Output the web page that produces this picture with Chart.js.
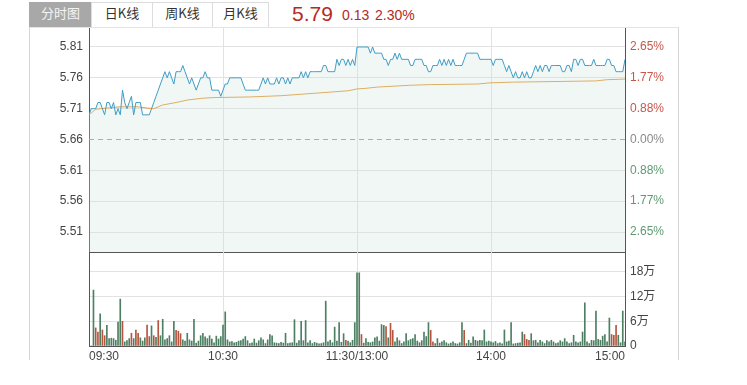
<!DOCTYPE html>
<html lang="zh-CN">
<head>
<meta charset="UTF-8">
<title>分时图</title>
<script src="https://cdn.jsdelivr.net/npm/chart.js@4"></script>
<style>
  body { margin: 0; background: #fff; font-family: "Liberation Sans", Arial, "Noto Sans CJK SC", sans-serif; }
  #wrap { position: relative; width: 747px; height: 385px; overflow: hidden; }
  .box { position: absolute; left: 29px; top: 27px; width: 648px; height: 332px;
         border-left: 1px solid #d6d6d6; border-right: 1px solid #d6d6d6; border-top: 1px solid #e4e4e4; }
  .tab { position: absolute; top: 2px; height: 25px; line-height: 24px; text-align: center;
         font: 13px "Noto Sans CJK SC", sans-serif; color: #333; background: #fff;
         border: 1px solid #dcdcdc; border-bottom: none; box-sizing: border-box; }
  .tab.on { background: #a8a8a8; color: #f4f4f4; border-color: #a8a8a8; }
  .quote { position: absolute; color: #b52a22; white-space: nowrap; }
  canvas { position: absolute; }
</style>
</head>
<body>
<div id="wrap">
  <div class="box"></div>
  <div class="tab on" style="left:29px;width:63px">分时图</div>
  <div class="tab" style="left:91px;width:62px">日K线</div>
  <div class="tab" style="left:152px;width:61px">周K线</div>
  <div class="tab" style="left:212px;width:57px">月K线</div>
  <span class="quote" id="last" style="left:292px;top:2px;font-size:21px"></span>
  <span class="quote" id="chg" style="left:342px;top:7px;font-size:14px"></span>
  <span class="quote" id="pct" style="left:375px;top:7px;font-size:14px"></span>

  <canvas id="priceChart" width="649" height="227" style="left:29px;top:27px"></canvas>
  <canvas id="volChart" width="649" height="115" style="left:29px;top:250px"></canvas>
</div>

<script>
  // quote header
  var lastPrice = 5.79;
  var change = 0.13;
  var changePct = '2.30%';
  var prevClose = 5.66;

  // minute prices 09:30 .. 15:00 (241 points)
  var prices = [
    5.70,5.71,5.71,5.71,5.72,5.72,5.71,5.70,5.72,5.72,
    5.71,5.72,5.70,5.71,5.70,5.74,5.72,5.71,5.72,5.73,
    5.70,5.72,5.72,5.72,5.70,5.70,5.70,5.70,5.71,5.72,
    5.73,5.74,5.75,5.76,5.77,5.76,5.77,5.76,5.75,5.77,
    5.77,5.77,5.78,5.77,5.76,5.75,5.76,5.75,5.74,5.75,
    5.76,5.76,5.77,5.76,5.76,5.74,5.74,5.74,5.74,5.73,
    5.74,5.75,5.75,5.76,5.76,5.76,5.76,5.76,5.76,5.75,
    5.74,5.74,5.74,5.74,5.74,5.74,5.74,5.75,5.76,5.75,
    5.76,5.75,5.75,5.75,5.76,5.75,5.76,5.76,5.75,5.76,
    5.75,5.76,5.76,5.76,5.76,5.77,5.76,5.77,5.76,5.77,
    5.77,5.77,5.77,5.77,5.77,5.78,5.78,5.77,5.77,5.77,
    5.77,5.79,5.78,5.79,5.79,5.78,5.79,5.78,5.79,5.78,
    5.81,5.81,5.81,5.81,5.81,5.81,5.80,5.81,5.80,5.80,
    5.80,5.80,5.79,5.79,5.78,5.79,5.79,5.80,5.79,5.80,
    5.79,5.79,5.79,5.79,5.78,5.78,5.79,5.79,5.79,5.79,
    5.78,5.78,5.77,5.77,5.78,5.78,5.78,5.79,5.78,5.79,
    5.78,5.79,5.78,5.79,5.78,5.78,5.78,5.78,5.79,5.80,
    5.80,5.80,5.80,5.80,5.80,5.79,5.79,5.79,5.79,5.79,
    5.79,5.78,5.79,5.79,5.79,5.79,5.78,5.77,5.78,5.77,
    5.76,5.77,5.76,5.76,5.77,5.76,5.77,5.76,5.76,5.77,
    5.78,5.77,5.78,5.77,5.78,5.78,5.77,5.78,5.78,5.78,
    5.78,5.78,5.77,5.77,5.78,5.78,5.77,5.79,5.79,5.78,
    5.79,5.79,5.78,5.78,5.78,5.78,5.79,5.78,5.78,5.78,
    5.78,5.78,5.79,5.79,5.78,5.78,5.77,5.77,5.77,5.77,
    5.79
  ];

  // average price line (minute, value)
  var avgMinutes = [0,3,8,14,22,26,29,33,39,44,51,56,72,86,101,116,120,124,129,144,153,174,180,190,227,232,240];
  var avgValues  = [5.700,5.709,5.711,5.713,5.713,5.711,5.710,5.716,5.720,5.724,5.727,5.728,5.729,5.731,5.735,5.739,5.742,5.743,5.745,5.748,5.749,5.750,5.752,5.753,5.755,5.757,5.758];

  // minute volume, in 万 shares
  var volumes = [
    0,0,13.6,4.4,3.4,7.8,3.9,2.5,5.0,1.8,
    1.9,1.8,1.4,5.8,11.4,6.0,1.0,1.3,1.8,3.1,
    1.8,3.9,3.1,2.0,1.2,2.0,5.1,2.3,4.9,2.5,
    2.1,6.2,2.5,6.5,1.5,1.8,2.5,1.0,6.0,3.8,
    3.6,3.0,1.5,1.2,3.1,1.5,1.2,6.5,0.7,1.2,
    2.5,3.1,2.2,1.8,2.5,1.7,0.8,2.4,1.7,2.3,
    5.1,8.3,1.5,1.0,1.1,0.8,0.9,1.2,1.3,1.7,
    2.3,1.3,0.6,0.8,1.7,0.7,1.3,2.0,1.5,0.6,
    1.5,2.8,2.5,0.8,0.7,0.6,0.9,0.7,3.1,0.6,
    0.7,0.8,6.4,0.7,1.3,6.0,1.3,6.2,0.8,1.3,
    0.6,0.9,0.7,0.5,0.6,0.8,10.9,1.0,1.4,0.8,
    4.6,1.2,5.7,0.9,3.0,1.4,1.2,0.8,1.4,5.7,
    17.8,17.8,2.8,0.7,1.8,0.9,0.8,1.0,2.0,2.2,
    1.2,5.2,5.0,4.7,2.0,5.5,3.8,1.0,2.0,1.3,
    0.6,1.0,3.0,1.3,1.6,1.8,2.8,1.2,0.8,1.3,
    3.4,2.3,5.7,3.8,1.0,0.6,1.8,0.7,1.0,1.3,
    0.8,0.5,0.7,1.0,0.6,0.5,0.8,5.7,3.8,0.6,
    1.4,0.7,2.2,1.4,1.2,1.4,1.3,3.9,1.0,1.2,
    1.0,0.8,1.1,0.6,0.8,0.5,3.9,1.0,1.2,5.7,
    0.5,0.6,0.7,0.8,3.4,2.8,1.6,1.4,3.0,1.3,
    1.4,0.8,1.4,1.0,0.6,1.3,1.0,1.4,1.0,0.6,
    0.8,1.3,1.0,1.8,1.0,0.6,0.8,2.6,1.0,0.8,
    1.0,3.4,10.5,1.0,0.6,1.4,1.3,8.5,1.6,1.4,
    2.4,2.8,1.0,6.8,2.8,2.6,5.0,2.6,0.8,8.5,
    1.0
  ];
  // minutes whose volume bar is red (the rest are green)
  var redMinutes = [3,4,6,7,15,19,21,22,26,27,29,31,39,40,41,115,122,133,135,136,153,154,168,195,196,197,234,235,236];

  var priceTicks = [5.51, 5.56, 5.61, 5.66, 5.71, 5.76, 5.81];
  var pctLabels = ['2.65%', '1.77%', '0.88%', '0.00%', '0.88%', '1.77%', '2.65%'];
  var volTicks = [0, 6, 12, 18];
  var volLabels = ['0', '6万', '12万', '18万'];
  var timeTicks = [0, 60, 120, 180, 240];
  var timeLabels = ['09:30', '10:30', '11:30/13:00', '14:00', '15:00'];

  document.getElementById('last').textContent = lastPrice.toFixed(2);
  document.getElementById('chg').textContent = change.toFixed(2);
  document.getElementById('pct').textContent = changePct;

  Chart.defaults.font.family = '"Liberation Sans", Arial, "Noto Sans CJK SC", sans-serif';
  Chart.defaults.font.size = 12;

  var gridCol = '#e2e2e2';
  var axisCol = '#555555';
  var upCol = '#b5553f';
  var downCol = '#4d7f62';

  function noPad(scale) {
    scale.paddingTop = 0; scale.paddingBottom = 0;
    scale.paddingLeft = 0; scale.paddingRight = 0;
  }
  function timeGrid(ctx) {
    if (!ctx.tick) return gridCol;
    return (ctx.tick.value === 0 || ctx.tick.value === 240) ? 'rgba(0,0,0,0)' : gridCol;
  }

  // price chart
  new Chart(document.getElementById('priceChart'), {
    type: 'line',
    data: {
      datasets: [{
        data: prices.map(function (p, i) { return { x: i, y: p }; }),
        borderColor: '#3f9dc6',
        borderWidth: 1,
        backgroundColor: 'rgba(205,228,218,0.28)',
        fill: 'start',
        pointRadius: 0,
        tension: 0
      }, {
        data: avgMinutes.map(function (m, i) { return { x: m, y: avgValues[i] }; }),
        borderColor: '#e49a35',
        borderWidth: 1,
        pointRadius: 0,
        fill: false
      }, {
        data: [{ x: 0, y: prevClose }, { x: 240, y: prevClose }],
        borderColor: '#9c9c9c',
        borderWidth: 1,
        borderDash: [5, 4],
        pointRadius: 0,
        fill: false
      }]
    },
    options: {
      responsive: false,
      animation: false,
      layout: { padding: { top: 1, bottom: 2, left: 0, right: 0 } },
      plugins: { legend: { display: false }, tooltip: { enabled: false } },
      scales: {
        x: {
          type: 'linear', min: 0, max: 240,
          ticks: { display: false },
          grid: { color: timeGrid, drawTicks: false },
          border: { color: axisCol },
          afterBuildTicks: function (s) { s.ticks = timeTicks.map(function (v) { return { value: v }; }); },
          afterFit: function (s) { s.height = 0; noPad(s); }
        },
        y: {
          position: 'left', min: 5.4776, max: 5.8408,
          ticks: { color: '#444', padding: 6, callback: function (v) { return v.toFixed(2); } },
          grid: {
            drawTicks: false,
            color: function (ctx) {
              if (ctx.tick && Math.abs(ctx.tick.value - prevClose) < 1e-6) return 'rgba(0,0,0,0)';
              return gridCol;
            }
          },
          border: { color: axisCol },
          afterBuildTicks: function (s) { s.ticks = priceTicks.map(function (v) { return { value: v }; }); },
          afterFit: function (s) { s.width = 60; noPad(s); }
        },
        y1: {
          position: 'right', min: 5.4776, max: 5.8408,
          ticks: {
            padding: 5,
            callback: function (v, i) { return pctLabels[i]; },
            color: function (ctx) {
              var v = ctx.tick.value;
              if (v > prevClose + 1e-6) return '#c9564a';
              if (v < prevClose - 1e-6) return '#5e9a72';
              return '#8a8a8a';
            }
          },
          grid: { display: false, drawTicks: false },
          border: { color: axisCol },
          afterBuildTicks: function (s) { s.ticks = priceTicks.map(function (v) { return { value: v }; }); },
          afterFit: function (s) { s.width = 53; noPad(s); }
        }
      }
    }
  });

  // volume chart
  new Chart(document.getElementById('volChart'), {
    type: 'bar',
    data: {
      datasets: [{
        data: volumes.map(function (v, i) { return { x: i, y: v }; }),
        backgroundColor: function (ctx) { return redMinutes.indexOf(ctx.dataIndex) >= 0 ? upCol : downCol; },
        barThickness: 1,
        yAxisID: 'y'
      }]
    },
    options: {
      responsive: false,
      animation: false,
      layout: { padding: { top: 2, bottom: 0, left: 0, right: 0 } },
      plugins: { legend: { display: false }, tooltip: { enabled: false } },
      scales: {
        x: {
          type: 'linear', min: 0, max: 240, offset: false,
          ticks: {
            color: '#444', padding: 3, align: 'inner', maxRotation: 0, autoSkip: false,
            callback: function (v, i) { return timeLabels[i]; }
          },
          grid: { color: timeGrid, drawTicks: false, offset: false },
          border: { color: axisCol },
          afterBuildTicks: function (s) { s.ticks = timeTicks.map(function (v) { return { value: v }; }); },
          afterFit: function (s) { s.height = 19; noPad(s); }
        },
        yl: {
          position: 'left', min: 0, max: 22.86,
          ticks: { display: false },
          grid: { display: false, drawTicks: false },
          border: { color: axisCol },
          afterFit: function (s) { s.width = 60; noPad(s); }
        },
        y: {
          position: 'right', min: 0, max: 22.86,
          ticks: { color: '#444', padding: 5, callback: function (v, i) { return volLabels[i]; } },
          grid: { color: gridCol, drawTicks: false },
          border: { color: axisCol },
          afterBuildTicks: function (s) { s.ticks = volTicks.map(function (v) { return { value: v }; }); },
          afterFit: function (s) { s.width = 53; noPad(s); }
        }
      }
    }
  });
</script>
</body>
</html>
